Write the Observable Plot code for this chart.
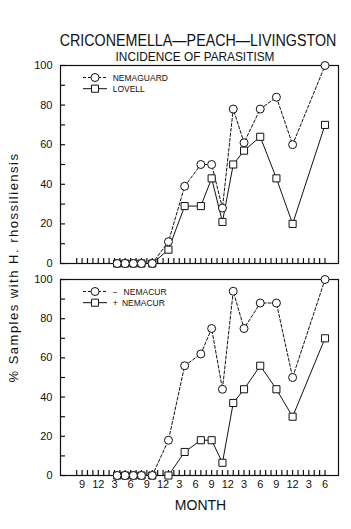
<!DOCTYPE html>
<html><head><meta charset="utf-8">
<script src="https://cdn.jsdelivr.net/npm/d3@7"></script>
<script src="https://cdn.jsdelivr.net/npm/@observablehq/plot@0.6"></script>
<style>
body{margin:0;background:#fff;}
#c{position:relative;width:351px;height:529px;overflow:hidden;font-family:"Liberation Sans",Arial,sans-serif;color:#111;background:#fff;}
.t{position:absolute;white-space:nowrap;line-height:1;}
.p{position:absolute;left:0;}
</style></head><body><div id="c">
<div class="t" style="left:197.5px;top:32px;font-size:17px;transform:translateX(-50%) scaleX(0.84);">CRICONEMELLA—PEACH—LIVINGSTON</div>
<div class="t" style="left:195px;top:50px;font-size:13px;transform:translateX(-50%) scaleX(0.91);">INCIDENCE OF PARASITISM</div>
<div class="t" style="left:-107px;top:261px;width:240px;text-align:center;font-size:13px;line-height:13px;letter-spacing:1.5px;transform:rotate(-90deg);">% Samples with H. rhossiliensis</div>
<div class="t" style="left:200.5px;top:498px;font-size:14px;transform:translateX(-50%);">MONTH</div>
<div class="p" id="top" style="top:60px;"></div>
<div class="p" id="bot" style="top:273px;"></div>
</div>
<script>
// Sampling months (0 = first "9" tick label)
const months = [6.5, 8, 9.5, 11, 13, 16, 19, 22, 24, 26, 28, 30, 33, 36, 39, 45];
// Top panel
const nemaguard = [0, 0, 0, 0, 0, 11, 39, 50, 50, 28, 78, 61, 78, 84, 60, 100];
const lovell    = [0, 0, 0, 0, 0, 7, 29, 29, 43, 21, 50, 57, 64, 43, 20, 70];
// Bottom panel
const minusNemacur = [0, 0, 0, 0, 0, 18, 56, 62, 75, 44, 94, 75, 88, 88, 50, 100];
const plusNemacur  = [0, 0, 0, 0, 0, 0, 12, 18, 18, 6.5, 37, 44, 56, 44, 30, 70];
// Axis ticks
const tickMonths = d3.range(-1, 46);
const labelMonths = [0, 3, 6, 9, 12, 15, 18, 21, 24, 27, 30, 33, 36, 39, 42, 45];
const monthLabels = ["9","12","3","6","9","12","3","6","9","12","3","6","9","12","3","6"];
const yMinor = [0, 10, 20, 30, 40, 50, 60, 70, 80, 90, 100];
const yLabels = [0, 20, 40, 60, 80, 100];

const rows = vals => months.map((m, i) => ({month: m, value: vals[i]}));

function legend(items) {
  return (index, scales, values, dims) => {
    const g = d3.create("svg:g").attr("font-size", "8.5px").attr("text-anchor", "start");
    items.forEach((it, i) => {
      const y = dims.marginTop + 12.5 + i * 11.2;
      const L = dims.marginLeft;
      g.append("line").attr("x1", L + 23).attr("x2", L + 47).attr("y1", y).attr("y2", y)
        .attr("stroke", "#111").attr("stroke-width", 1).attr("stroke-dasharray", it.dash ? "3,2" : null);
      g.append("path").attr("d", d3.symbol(it.symbol === "circle" ? d3.symbolCircle : d3.symbolSquare, 16 * Math.PI)())
        .attr("transform", `translate(${L + 35},${y})`).attr("fill", "#fff").attr("stroke", "#111");
      g.append("text").attr("x", L + 52.7).attr("y", y).attr("dy", "0.36em").attr("fill", "#111")
        .attr("text-anchor", "start").text(it.label);
    });
    return g.node();
  };
}

function panel(a, b, legendItems, height, marginTop, marginBottom, showLabels) {
  const plotW = 351 - 60 - 13, plotH = height - marginTop - marginBottom;
  const marks = [
    Plot.tickX(tickMonths, {x: d => d, stroke: "#111", strokeWidth: 1.2, insetTop: plotH - 5}),
    Plot.tickY(yMinor, {y: d => d, stroke: "#111", strokeWidth: 1.2, insetRight: plotW - 5}),
    Plot.frame({stroke: "#111", strokeWidth: 1.2}),
    Plot.axisY({ticks: yLabels, tickSize: 0, tickPadding: 8, label: null, fill: "#111"}),
    Plot.line(rows(a), {x: "month", y: "value", stroke: "#111", strokeWidth: 1, strokeDasharray: "3,2"}),
    Plot.line(rows(b), {x: "month", y: "value", stroke: "#111", strokeWidth: 1}),
    Plot.dot(rows(b), {x: "month", y: "value", symbol: "square", r: 4, stroke: "#111", fill: "#fff", strokeWidth: 1}),
    Plot.dot(rows(a), {x: "month", y: "value", symbol: "circle", r: 4, stroke: "#111", fill: "#fff", strokeWidth: 1}),
    legend(legendItems)
  ];
  if (showLabels) marks.push(Plot.axisX({ticks: labelMonths, tickSize: 0, tickPadding: 5, label: null, fill: "#111",
    tickFormat: d => monthLabels[labelMonths.indexOf(d)]}));
  return Plot.plot({
    width: 351, height, marginLeft: 60, marginRight: 13, marginTop, marginBottom,
    x: {domain: [-4, 47.5], axis: null},
    y: {domain: [0, 100], axis: null},
    style: {fontFamily: "Liberation Sans, Arial, sans-serif", fontSize: "11px", background: "transparent", overflow: "visible", color: "#111"},
    marks
  });
}

document.getElementById("top").append(panel(nemaguard, lovell,
  [{label: "NEMAGUARD", symbol: "circle", dash: true}, {label: "LOVELL", symbol: "square", dash: false}],
  213, 5, 10, false));
document.getElementById("bot").append(panel(minusNemacur, plusNemacur,
  [{label: "\u2212\u2002\u2009NEMACUR", symbol: "circle", dash: true}, {label: "+\u2002NEMACUR", symbol: "square", dash: false}],
  227, 6, 25, true));
</script>
</body></html>
